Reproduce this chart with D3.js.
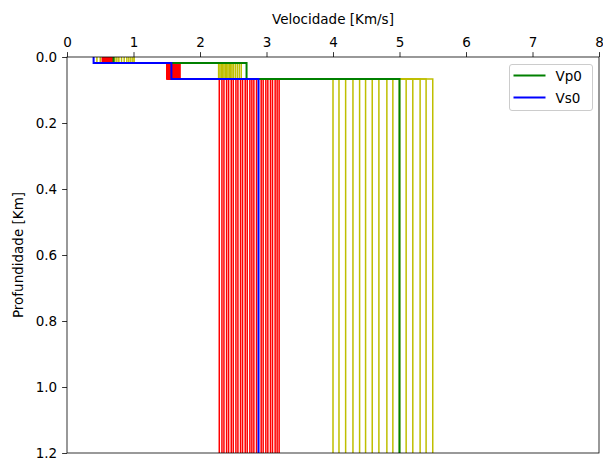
<!DOCTYPE html>
<html>
<head>
<meta charset="utf-8">
<script src="https://cdn.jsdelivr.net/npm/d3@7"></script>
<style>
  body { margin: 0; background: #fff; }
  text { font-family: "DejaVu Sans", sans-serif; }
</style>
</head>
<body>
<script>
let w = 603
let h = 458

// layer bottoms (km); last layer is a half-space
let depths = [0.018, 0.067, 1.3]

// reference model
let vp0 = [0.70, 2.70, 5.00]
let vs0 = [0.40, 1.57, 2.88]

// perturbed Vp models (yellow), one value per layer
let vpL1 = [0.45, 0.50, 0.55, 0.60, 0.63, 0.66, 0.72, 0.75, 0.78, 0.82, 0.86, 0.90, 0.93, 0.96, 0.99, 1.01]
let vpL2 = [2.28, 2.30, 2.32, 2.34, 2.36, 2.38, 2.40, 2.42, 2.44, 2.46, 2.48, 2.50, 2.53, 2.56, 2.59, 2.62]
let vpL3 = [4.00, 4.09, 4.19, 4.30, 4.40, 4.49, 4.59, 4.69, 4.81, 4.90, 5.00, 5.10, 5.20, 5.31, 5.40, 5.50]

// perturbed Vs models (red)
let vsL1 = [0.53, 0.54, 0.55, 0.56, 0.57, 0.57, 0.58, 0.59, 0.60, 0.60, 0.61, 0.62, 0.62, 0.63, 0.63, 0.64, 0.64, 0.65, 0.65, 0.66, 0.66, 0.67, 0.67, 0.68, 0.68, 0.68]
let vsL2 = [1.50, 1.51, 1.52, 1.52, 1.53, 1.54, 1.55, 1.56, 1.57, 1.58, 1.58, 1.59, 1.60, 1.61, 1.61, 1.62, 1.63, 1.63, 1.64, 1.65, 1.66, 1.66, 1.67, 1.68, 1.69, 1.70]
let vsL3 = [2.29, 2.33, 2.36, 2.40, 2.43, 2.47, 2.50, 2.54, 2.57, 2.61, 2.64, 2.68, 2.71, 2.75, 2.78, 2.81, 2.85, 2.92, 2.95, 2.99, 3.02, 3.06, 3.09, 3.13, 3.16, 3.19]

let xTicks = [0, 1, 2, 3, 4, 5, 6, 7, 8]
let yTicks = [0.0, 0.2, 0.4, 0.6, 0.8, 1.0, 1.2]

let m = { left: 67, right: 4, top: 57, bottom: 5 }

let svg = d3.select("body")
    .append("svg")
    .attr("width", w)
    .attr("height", h)

let x = d3.scaleLinear().domain([0, 8]).range([m.left, w - m.right])
let y = d3.scaleLinear().domain([0, 1.2]).range([m.top, h - m.bottom])

svg.append("clipPath").attr("id", "clip")
    .append("rect")
    .attr("x", x(0)).attr("y", y(0))
    .attr("width", x(8) - x(0)).attr("height", y(1.2) - y(0))

// build step profile [[v, z], ...] from per-layer velocities
function profile(vels) {
    let pts = []
    let top = 0
    vels.forEach((v, i) => {
        pts.push([v, top])
        pts.push([v, depths[i]])
        top = depths[i]
    })
    return pts
}

let line = d3.line()
    .x(d => x(d[0]))
    .y(d => y(d[1]))

let plot = svg.append("g").attr("clip-path", "url(#clip)")

let vpModels = vpL1.map((v, i) => [v, vpL2[i], vpL3[i]])
let vsModels = vsL1.map((v, i) => [v, vsL2[i], vsL3[i]])

plot.selectAll(".vp").data(vpModels).enter()
    .append("path")
    .attr("d", d => line(profile(d)))
    .attr("fill", "none")
    .attr("stroke", "#bfbf00")
    .attr("stroke-width", 1.5)

plot.selectAll(".vs").data(vsModels).enter()
    .append("path")
    .attr("d", d => line(profile(d)))
    .attr("fill", "none")
    .attr("stroke", "#ff0000")
    .attr("stroke-width", 1.5)

let refs = [
    { name: "Vp0", vals: vp0, color: "#008000" },
    { name: "Vs0", vals: vs0, color: "#0000ff" }
]

plot.selectAll(".ref").data(refs).enter()
    .append("path")
    .attr("d", d => line(profile(d.vals)))
    .attr("fill", "none")
    .attr("stroke", d => d.color)
    .attr("stroke-width", 2)

// axes
let xAxis = svg.append("g")
    .attr("transform", "translate(0," + y(0) + ")")
    .call(d3.axisTop(x).tickValues(xTicks).tickFormat(d3.format("d")).tickSize(4.9).tickPadding(4.9))

let yAxis = svg.append("g")
    .attr("transform", "translate(" + x(0) + ",0)")
    .call(d3.axisLeft(y).tickValues(yTicks).tickFormat(d3.format(".1f")).tickSize(4.9).tickPadding(4.9))

for (let a of [xAxis, yAxis]) {
    a.select(".domain").remove()
    a.selectAll("line").attr("stroke", "#000").attr("stroke-width", 0.8)
    a.selectAll("text").attr("font-size", "13.5px").attr("fill", "#000")
        .attr("font-family", "DejaVu Sans, sans-serif")
}

svg.append("rect")
    .attr("x", x(0)).attr("y", y(0))
    .attr("width", x(8) - x(0)).attr("height", y(1.2) - y(0))
    .attr("fill", "none")
    .attr("stroke", "#000")
    .attr("stroke-width", 0.8)

svg.append("text")
    .attr("x", (x(0) + x(8)) / 2)
    .attr("y", 24)
    .attr("text-anchor", "middle")
    .attr("font-size", "13.5px")
    .text("Velocidade [Km/s]")

svg.append("text")
    .attr("transform", "translate(23," + (y(0) + y(1.2)) / 2 + ") rotate(-90)")
    .attr("text-anchor", "middle")
    .attr("font-size", "13.5px")
    .text("Profundidade [Km]")

// legend
let lg = svg.append("g").attr("transform", "translate(509.5,64.5)")
lg.append("rect")
    .attr("width", 83).attr("height", 46)
    .attr("rx", 2.5)
    .attr("fill", "#fff").attr("fill-opacity", 0.8)
    .attr("stroke", "#cccccc").attr("stroke-width", 1)

let items = lg.selectAll(".item").data(refs).enter()
    .append("g")
    .attr("transform", (d, i) => "translate(0," + (11 + i * 22) + ")")
items.append("line")
    .attr("x1", 4).attr("x2", 36)
    .attr("stroke", d => d.color).attr("stroke-width", 2)
items.append("text")
    .attr("x", 46).attr("y", 5)
    .attr("font-size", "13.5px")
    .text(d => d.name)
</script>
</body>
</html>
